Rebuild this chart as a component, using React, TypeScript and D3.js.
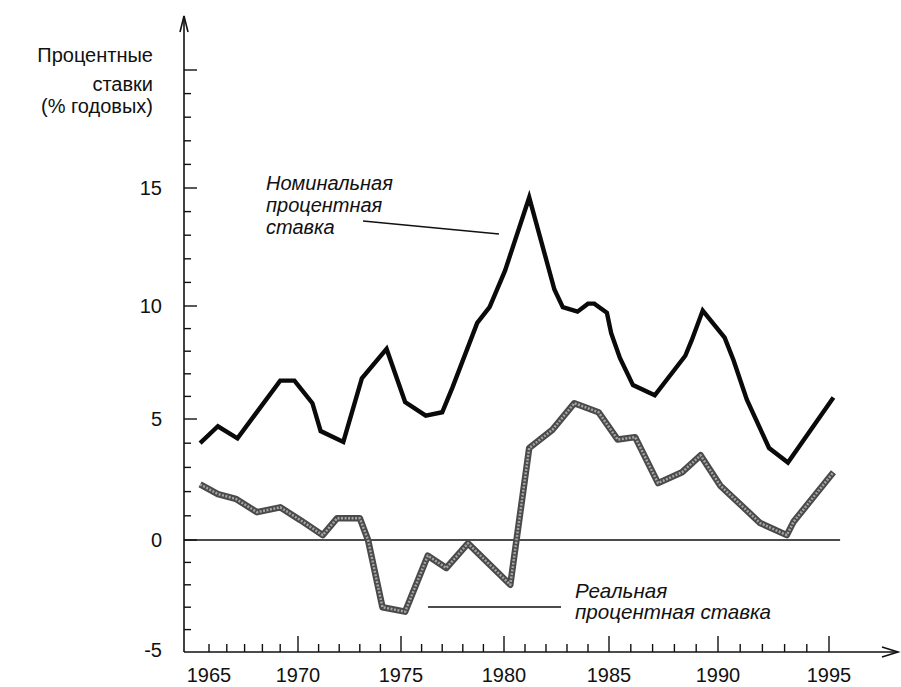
import React from "react";
import * as d3 from "d3";

// ---- Data ----
const nominalYears = [1964.5, 1965.5, 1966.6, 1969.0, 1969.8, 1970.7, 1971.1, 1972.2, 1973.1, 1974.3, 1975.2, 1976.2, 1977.0, 1977.5, 1978.7, 1979.3, 1980.05, 1981.2, 1982.4, 1982.8, 1983.5, 1984.0, 1984.3, 1984.9, 1985.1, 1985.5, 1986.1, 1987.1, 1988.5, 1988.8, 1989.3, 1990.3, 1990.7, 1991.3, 1992.3, 1993.15, 1995.2];
const nominalValues = [4.0, 4.7, 4.2, 6.7, 6.7, 5.7, 4.5, 4.05, 6.8, 8.1, 5.75, 5.15, 5.3, 6.4, 9.25, 9.95, 11.5, 14.6, 10.7, 9.95, 9.75, 10.1, 10.1, 9.7, 8.8, 7.7, 6.5, 6.05, 7.8, 8.5, 9.8, 8.6, 7.6, 5.85, 3.8, 3.2, 5.95];

const realYears = [1964.5, 1965.5, 1966.5, 1967.7, 1969.0, 1970.1, 1971.2, 1971.9, 1973.0, 1973.4, 1974.1, 1975.2, 1976.3, 1977.2, 1978.25, 1980.3, 1981.2, 1982.3, 1983.35, 1984.5, 1985.4, 1986.2, 1987.25, 1988.35, 1989.2, 1990.1, 1991.9, 1993.1, 1993.4, 1995.2];
const realValues = [2.3, 1.9, 1.7, 1.15, 1.35, 0.83, 0.2, 0.9, 0.9, 0.0, -3.0, -3.2, -0.7, -1.25, -0.15, -2.0, 3.8, 4.55, 5.7, 5.3, 4.15, 4.25, 2.35, 2.8, 3.5, 2.25, 0.7, 0.2, 0.75, 2.8];

const xTickLabels = [1965, 1970, 1975, 1980, 1985, 1990, 1995];
const yTickLabels = [-5, 0, 5, 10, 15];
const yTitle = ["Процентные", "ставки", "(% годовых)"];
const nominalLabel = ["Номинальная", "процентная", "ставка"];
const realLabel = ["Реальная", "процентная ставка"];

// ---- Layout ----
const W = 901;
const H = 687;
const axisX = 184;
const axisY = 652;
const font = "'Liberation Sans', Arial, Helvetica, sans-serif";

export default function App() {
  // hand-drawn reference axes are slightly uneven; use piecewise-linear scales
  const x = d3
    .scaleLinear()
    .domain(xTickLabels)
    .range([209, 298, 401, 504, 609, 718, 829]);
  const y = d3
    .scaleLinear()
    .domain([-5, 0, 5, 10, 15, 20])
    .range([axisY, 540, 419, 306, 188, 70]);

  const line = d3
    .line<[number, number]>()
    .x((d) => x(d[0]))
    .y((d) => y(d[1]))
    .curve(d3.curveLinear);

  const nominal = nominalYears.map((yr, i) => [yr, nominalValues[i]] as [number, number]);
  const real = realYears.map((yr, i) => [yr, realValues[i]] as [number, number]);

  const xMinor = d3.range(1965, 1996);
  const yMinor = d3.range(-4, 21);

  return (
    <svg
      width={W}
      height={H}
      style={{ position: "absolute", left: 0, top: 0, background: "#fff" }}
      fontFamily={font}
    >
      <rect width={W} height={H} fill="#fff" />

      {/* Y axis */}
      <line x1={axisX} y1={axisY} x2={axisX} y2={16} stroke="#111" strokeWidth={1.6} />
      <path d={`M${axisX - 4},${32} L${axisX},${16} L${axisX + 4},${32}`} fill="none" stroke="#111" strokeWidth={1.6} />
      {yMinor.map((v) => {
        const major = v % 5 === 0;
        return (
          <line
            key={"yt" + v}
            x1={axisX}
            x2={axisX + (major ? 13 : 7)}
            y1={y(v)}
            y2={y(v)}
            stroke="#111"
            strokeWidth={1.4}
          />
        );
      })}
      {yTickLabels.map((v) => (
        <text
          key={"yl" + v}
          x={162}
          y={v === -5 ? y(v) - 2 : y(v)}
          textAnchor="end"
          dominantBaseline="central"
          fontSize={20}
          fill="#111"
        >
          {v}
        </text>
      ))}
      {yTitle.map((t, i) => (
        <text key={"ytt" + i} x={153} y={[62, 91, 113][i]} textAnchor="end" fontSize={20} fill="#111">
          {t}
        </text>
      ))}

      {/* X axis */}
      <line x1={axisX} y1={axisY} x2={898} y2={axisY} stroke="#111" strokeWidth={1.6} />
      <path d={`M${882},${axisY - 5} L${898},${axisY} L${882},${axisY + 5}`} fill="none" stroke="#111" strokeWidth={1.6} />
      {xMinor.map((yr) => {
        const major = yr % 5 === 0 && yr !== 1965;
        return (
          <line
            key={"xt" + yr}
            x1={x(yr)}
            x2={x(yr)}
            y1={axisY}
            y2={axisY - (major ? 16 : 8)}
            stroke="#111"
            strokeWidth={1.4}
          />
        );
      })}
      {xTickLabels.map((yr) => (
        <text key={"xl" + yr} x={x(yr)} y={682} textAnchor="middle" fontSize={20} fill="#111">
          {yr}
        </text>
      ))}

      {/* Zero line */}
      <line x1={axisX} x2={x(1995.5)} y1={y(0)} y2={y(0)} stroke="#111" strokeWidth={1.6} />

      {/* Real rate: grey textured thick line */}
      <path d={line(real) ?? ""} fill="none" stroke="#4a4a4a" strokeWidth={6.5} strokeLinejoin="round" />
      <path d={line(real) ?? ""} fill="none" stroke="#a5a5a5" strokeWidth={2.5} strokeLinejoin="round" strokeDasharray="2 1.5" />

      {/* Nominal rate: thick black line */}
      <path d={line(nominal) ?? ""} fill="none" stroke="#0a0a0a" strokeWidth={4.4} strokeLinejoin="miter" />

      {/* Annotations */}
      {nominalLabel.map((t, i) => (
        <text key={"nl" + i} x={266} y={190 + i * 22} fontSize={20} fontStyle="italic" fill="#111">
          {t}
        </text>
      ))}
      <line x1={363} y1={221} x2={499} y2={234} stroke="#111" strokeWidth={1.3} />

      {realLabel.map((t, i) => (
        <text key={"rl" + i} x={575} y={598 + i * 21} fontSize={20.6} fontStyle="italic" fill="#111">
          {t}
        </text>
      ))}
      <line x1={428} y1={607} x2={561} y2={607} stroke="#111" strokeWidth={1.3} />
    </svg>
  );
}
